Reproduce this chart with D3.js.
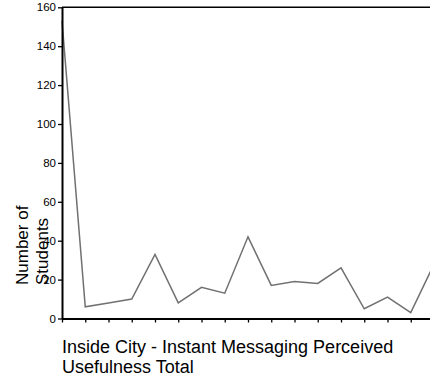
<!DOCTYPE html>
<html>
<head>
<meta charset="utf-8">
<script src="https://cdn.jsdelivr.net/npm/d3@7/dist/d3.min.js"></script>
<style>
  html, body { margin: 0; padding: 0; background: #fff; }
  svg { display: block; }
  text { font-family: Arial, "Liberation Sans", sans-serif; fill: #000; }
</style>
</head>
<body>
<script>
// Data
const categories = [0, 1, 2, 3, 4, 5, 6, 7, 8, 9, 10, 11, 12, 13, 14, 15, 16];
const studentCounts = [153, 6, 8, 10, 33, 8, 16, 13, 42, 17, 19, 18, 26, 5, 11, 3, 28];
const yTicks = [0, 20, 40, 60, 80, 100, 120, 140, 160];
const xTitleLines = ["Inside City - Instant Messaging Perceived", "Usefulness Total"];
const yTitleLines = ["Number of", "Students"];

const W = 430, H = 377;
const plotLeft = 62, plotTop = 7.3, plotBottom = 318.5, step = 23.25;

const svg = d3.select("body").append("svg").attr("width", W).attr("height", H);

const x = d3.scalePoint()
  .domain(categories)
  .range([plotLeft, plotLeft + step * (categories.length - 1)]);
const y = d3.scaleLinear().domain([0, 160]).range([plotBottom, plotTop]);

// top border
svg.append("line")
  .attr("x1", plotLeft).attr("x2", W).attr("y1", y(160)).attr("y2", y(160))
  .attr("stroke", "#000").attr("stroke-width", 1.5);

// data line
svg.append("path")
  .datum(categories.map((c, i) => [c, studentCounts[i]]))
  .attr("fill", "none")
  .attr("stroke", "#717171")
  .attr("stroke-width", 1.5)
  .attr("stroke-linejoin", "miter")
  .attr("d", d3.line().x(d => x(d[0])).y(d => y(d[1])));

// y axis
const gy = svg.append("g")
  .attr("transform", `translate(${plotLeft},0)`)
  .call(d3.axisLeft(y).tickValues(yTicks).tickSize(4).tickSizeOuter(0).tickPadding(2));
gy.select(".domain").attr("stroke", "#000").attr("stroke-width", 2);
gy.selectAll(".tick line").attr("stroke", "#000").attr("stroke-width", 1.3);
gy.selectAll(".tick text")
  .style("font-family", "Arial, 'Liberation Sans', sans-serif")
  .style("font-size", "11.5px").attr("fill", "#000");

// x axis
const gx = svg.append("g")
  .attr("transform", `translate(0,${plotBottom})`)
  .call(d3.axisBottom(x).tickSize(4).tickSizeOuter(0).tickFormat(""));
gx.select(".domain").attr("stroke", "#000").attr("stroke-width", 2);
gx.selectAll(".tick line").attr("stroke", "#000").attr("stroke-width", 1.3);

// x title
svg.append("text")
  .attr("x", plotLeft).attr("y", 353)
  .style("font-size", "18px")
  .selectAll("tspan").data(xTitleLines).join("tspan")
  .attr("x", plotLeft).attr("dy", (d, i) => i === 0 ? 0 : 20)
  .text(d => d);

// y title
const yt = svg.append("text")
  .attr("transform", "translate(28,285) rotate(-90)")
  .style("font-size", "17px");
yt.selectAll("tspan").data(yTitleLines).join("tspan")
  .attr("x", 0).attr("dy", (d, i) => i === 0 ? 0 : 20)
  .text(d => d);
</script>
</body>
</html>
